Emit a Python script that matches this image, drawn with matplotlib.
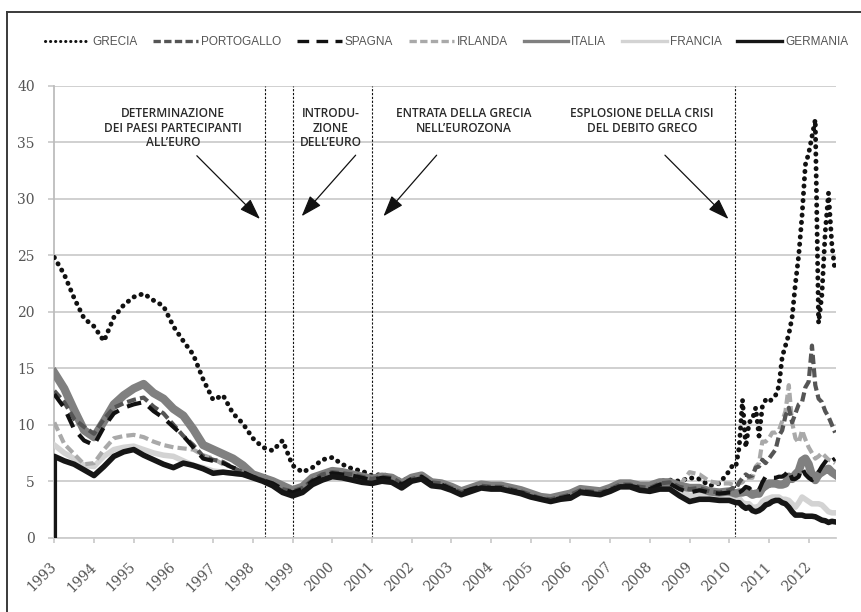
import numpy as np
import matplotlib
matplotlib.use("Agg")
import matplotlib.pyplot as plt
from matplotlib.lines import Line2D
from matplotlib.transforms import ScaledTranslation

# ---------------- data ----------------
quarter_dates = 1993 + np.arange(68) * 0.25          # 1993.00 ... 2009.75
month_dates = 2010 + np.arange(33) / 12.0            # Jan 2010 ... Sep 2012
dates = np.concatenate([quarter_dates, month_dates])

greece = [24.8, 23.3, 21.2, 19.4, 18.7, 17.4, 19.5, 20.6, 21.3, 21.6, 21.0, 20.5,
          18.7, 17.4, 16.2, 14.0, 12.2, 12.6, 11.0, 10.1, 8.8, 8.0, 7.7, 8.6,
          6.4, 5.8, 6.2, 6.9, 7.1, 6.5, 6.1, 5.9, 5.5, 5.6, 5.4, 5.0,
          5.4, 5.6, 5.0, 4.9, 4.5, 4.1, 4.4, 4.7, 4.6, 4.6, 4.4, 4.2,
          3.8, 3.6, 3.5, 3.7, 3.9, 4.3, 4.2, 4.1, 4.4, 4.8, 4.8, 4.6,
          4.6, 5.0, 5.1, 5.0, 5.3, 5.2, 4.6, 4.8,
          5.9, 6.4, 6.3, 8.0, 12.2, 8.0, 10.2, 10.5, 11.5, 9.0, 11.6, 12.2,
          12.0, 12.3, 12.6, 13.4, 16.0, 17.0, 18.0, 19.5, 22.5, 25.0, 28.5, 33.0,
          34.0, 35.5, 37.0, 19.0, 21.5, 27.0, 30.5, 26.0, 23.5]

portugal = [13.0, 12.0, 10.5, 9.8, 9.2, 10.5, 11.5, 11.9, 12.2, 12.4, 11.6, 11.0,
            10.0, 9.0, 8.2, 7.2, 6.9, 6.7, 6.2, 5.8, 5.4, 5.1, 4.8, 4.3,
            4.1, 4.4, 5.1, 5.6, 5.8, 5.7, 5.6, 5.4, 5.2, 5.4, 5.3, 4.8,
            5.2, 5.4, 4.9, 4.8, 4.4, 4.0, 4.3, 4.6, 4.5, 4.5, 4.3, 4.1,
            3.8, 3.5, 3.4, 3.6, 3.8, 4.2, 4.1, 4.0, 4.3, 4.7, 4.7, 4.5,
            4.4, 4.8, 4.9, 4.5, 4.3, 4.4, 4.1, 4.0,
            4.2, 4.4, 4.3, 4.9, 5.3, 5.6, 5.4, 5.5, 6.2, 6.3, 6.9, 6.6,
            7.0, 7.4, 7.8, 9.0, 9.5, 10.8, 11.5, 10.2, 11.0, 11.8, 12.0, 13.3,
            13.8, 17.0, 13.5, 12.3, 12.0, 11.2, 10.7, 10.0, 9.3]

spain = [12.7, 11.5, 9.6, 8.6, 8.2, 9.8, 11.0, 11.5, 11.8, 12.0, 11.2, 10.6,
         9.8, 9.0, 8.0, 7.0, 6.8, 6.6, 6.2, 5.8, 5.4, 5.1, 4.8, 4.3,
         4.0, 4.3, 5.0, 5.4, 5.7, 5.6, 5.5, 5.3, 5.1, 5.3, 5.2, 4.7,
         5.2, 5.4, 4.8, 4.7, 4.3, 4.0, 4.3, 4.5, 4.4, 4.4, 4.2, 4.0,
         3.7, 3.4, 3.3, 3.5, 3.7, 4.1, 4.0, 3.9, 4.2, 4.6, 4.6, 4.4,
         4.3, 4.7, 4.8, 4.3, 4.0, 4.2, 4.0, 3.9,
         4.0, 4.0, 3.9, 4.0, 4.2, 4.5, 4.4, 4.1, 4.1, 4.2, 4.9, 5.4,
         5.4, 5.3, 5.3, 5.4, 5.4, 5.6, 6.0, 5.2, 5.2, 5.4, 6.2, 5.6,
         5.3, 5.1, 5.3, 5.8, 6.3, 6.7, 7.1, 6.8, 7.0]

ireland = [10.2, 8.3, 7.4, 6.5, 6.6, 7.8, 8.8, 9.0, 9.1, 8.9, 8.5, 8.2,
           8.0, 7.9, 7.8, 7.3, 7.0, 6.5, 6.2, 5.9, 5.5, 5.1, 4.8, 4.3,
           3.9, 4.2, 4.9, 5.3, 5.6, 5.5, 5.3, 5.1, 5.0, 5.2, 5.1, 4.6,
           5.1, 5.3, 4.7, 4.6, 4.3, 3.9, 4.2, 4.5, 4.4, 4.4, 4.2, 4.0,
           3.7, 3.4, 3.3, 3.5, 3.7, 4.1, 4.0, 3.9, 4.2, 4.6, 4.6, 4.4,
           4.4, 4.7, 5.0, 4.6, 5.8, 5.6, 5.0, 4.8,
           4.8, 4.7, 4.6, 4.8, 4.9, 5.3, 5.3, 5.3, 6.3, 6.6, 8.5, 8.5,
           8.8, 9.3, 9.3, 9.5, 10.3, 11.2, 13.5, 10.2, 8.8, 8.4, 9.5, 8.7,
           8.0, 7.5, 7.0, 7.2, 7.5, 7.2, 6.9, 6.8, 6.6]

italy = [14.6, 13.2, 11.3, 9.5, 8.9, 10.3, 11.8, 12.6, 13.2, 13.6, 12.8, 12.3,
         11.4, 10.8, 9.6, 8.2, 7.8, 7.4, 7.0, 6.4, 5.6, 5.3, 5.0, 4.6,
         4.2, 4.5, 5.3, 5.6, 5.9, 5.8, 5.6, 5.4, 5.2, 5.4, 5.3, 4.8,
         5.3, 5.5, 4.9, 4.8, 4.5, 4.1, 4.4, 4.7, 4.6, 4.6, 4.4, 4.2,
         3.9, 3.6, 3.5, 3.7, 3.9, 4.3, 4.2, 4.1, 4.4, 4.8, 4.8, 4.6,
         4.6, 4.9, 4.9, 4.6, 4.4, 4.4, 4.1, 4.0,
         4.1, 4.0, 3.9, 4.0, 4.0, 4.1, 4.0, 3.8, 3.9, 3.9, 4.4, 4.6,
         4.8, 4.8, 4.8, 4.7, 4.7, 4.8, 5.4, 5.2, 5.6, 5.9, 6.8, 7.0,
         6.5, 5.5, 5.1, 5.6, 5.8, 6.0, 6.1, 5.8, 5.6]

france = [8.2, 7.5, 7.0, 6.4, 6.3, 7.2, 7.8, 8.0, 8.1, 7.8, 7.5, 7.3,
          7.2, 6.8, 6.4, 6.2, 5.9, 5.8, 5.7, 5.6, 5.4, 5.1, 4.8, 4.3,
          3.9, 4.2, 4.9, 5.3, 5.6, 5.5, 5.3, 5.1, 5.0, 5.2, 5.1, 4.6,
          5.1, 5.3, 4.7, 4.6, 4.3, 3.9, 4.2, 4.5, 4.4, 4.4, 4.2, 4.0,
          3.7, 3.4, 3.3, 3.5, 3.6, 4.1, 4.0, 3.9, 4.2, 4.6, 4.6, 4.4,
          4.2, 4.5, 4.6, 4.2, 3.7, 3.8, 3.8, 3.6,
          3.6, 3.6, 3.5, 3.5, 3.1, 3.0, 3.0, 2.7, 2.7, 2.8, 3.2, 3.4,
          3.5, 3.6, 3.6, 3.6, 3.4, 3.4, 3.3, 3.0, 2.7, 3.1, 3.6, 3.4,
          3.2, 3.0, 3.0, 3.0, 2.9, 2.6, 2.3, 2.2, 2.2]

germany_first = 0.0   # series begins at zero in the source chart
germany = [7.2, 6.8, 6.5, 6.0, 5.5, 6.3, 7.2, 7.6, 7.8, 7.3, 6.9, 6.5,
           6.2, 6.6, 6.4, 6.1, 5.7, 5.8, 5.7, 5.6, 5.3, 5.0, 4.6, 4.0,
           3.7, 4.0, 4.7, 5.1, 5.4, 5.3, 5.1, 4.9, 4.8, 5.0, 4.9, 4.4,
           5.0, 5.2, 4.6, 4.5, 4.2, 3.8, 4.1, 4.4, 4.3, 4.3, 4.1, 3.9,
           3.6, 3.4, 3.2, 3.4, 3.5, 4.0, 3.9, 3.8, 4.1, 4.5, 4.5, 4.2,
           4.1, 4.3, 4.3, 3.7, 3.2, 3.4, 3.4, 3.3,
           3.3, 3.2, 3.1, 3.1, 2.8, 2.6, 2.7, 2.4, 2.3, 2.4, 2.6, 2.9,
           3.0, 3.2, 3.3, 3.3, 3.1, 3.0, 2.7, 2.3, 2.0, 2.0, 2.0, 1.9,
           1.9, 1.9, 1.85, 1.7, 1.55, 1.5, 1.35, 1.45, 1.4]

legend_names = ["GRECIA", "PORTOGALLO", "SPAGNA", "IRLANDA", "ITALIA", "FRANCIA", "GERMANIA"]
year_ticks = list(range(1993, 2013))
y_ticks = list(range(0, 41, 5))

event_years = [1998.3, 1999.0, 2001.0, 2010.15]
event_labels = ["DETERMINAZIONE\nDEI PAESI PARTECIPANTI\nALL\u2019EURO",
                "INTRODU-\nZIONE\nDELL\u2019EURO",
                "ENTRATA DELLA GRECIA\nNELL\u2019EUROZONA",
                "ESPLOSIONE DELLA CRISI\nDEL DEBITO GRECO"]
label_pos = [(1995.99, 38.1), (1999.96, 38.1), (2003.32, 38.1), (2007.8, 38.1)]
arrow_from = [(1996.59, 33.8), (2000.59, 33.85), (2002.63, 33.85), (2008.38, 33.85)]
arrow_to = [(1998.18, 28.2), (1999.23, 28.45), (2001.29, 28.45), (2009.98, 28.2)]

# ---------------- figure ----------------
fig = plt.figure(figsize=(8.62, 6.12), dpi=100)
ax = fig.add_axes([0.063, 0.1214, 0.9069, 0.7386])

grid_c = "#cdcdcd"
text_c = "#555555"

styles = {
    "GRECIA": dict(color="#111111", lw=3.5, ls=(0, (0.05, 1.45)), dash_capstyle="round"),
    "PORTOGALLO": dict(color="#555555", lw=3.0, ls=(0, (2.2, 1.0))),
    "SPAGNA": dict(color="#111111", lw=3.0, ls=(0, (3.5, 2.2))),
    "IRLANDA": dict(color="#a9a9a9", lw=3.0, ls=(0, (2.2, 1.0))),
    "ITALIA": dict(color="#808080", lw=6.0, ls="-"),
    "FRANCIA": dict(color="#d3d3d3", lw=4.0, ls="-"),
    "GERMANIA": dict(color="#161616", lw=4.0, ls="-"),
}

series = {"GRECIA": greece, "PORTOGALLO": portugal, "SPAGNA": spain,
          "IRLANDA": ireland, "ITALIA": italy, "FRANCIA": france,
          "GERMANIA": germany}

draw_order = ["GRECIA", "FRANCIA", "IRLANDA", "ITALIA", "PORTOGALLO", "SPAGNA", "GERMANIA"]
for z, name in enumerate(draw_order):
    st = styles[name]
    if name == "GERMANIA":
        x = np.concatenate([[dates[0]], dates])
        y = [germany_first] + list(series[name])
    else:
        x, y = dates, series[name]
    kw = dict(color=st["color"], lw=st["lw"], linestyle=st["ls"], zorder=3 + z,
              solid_joinstyle="round")
    if "dash_capstyle" in st:
        kw["dash_capstyle"] = st["dash_capstyle"]
    ax.plot(x, y, **kw)

# event lines
for ex in event_years:
    ax.axvline(ex, ymin=0, ymax=1, color="#111111", lw=0.8, ls=(0, (2, 1.5)), zorder=2)

# annotations
for lab, (tx, ty), af, at in zip(event_labels, label_pos, arrow_from, arrow_to):
    ax.text(tx, ty, lab, ha="center", va="top", fontsize=8.6, color="#2a2a2a",
            family=["Open Sans", "DejaVu Sans"], fontweight="semibold",
            linespacing=1.15, zorder=20)
    ax.annotate("", xy=at, xytext=af,
                arrowprops=dict(arrowstyle="-|>,head_length=1.3,head_width=0.45",
                                mutation_scale=10, color="#111111", lw=0.9,
                                shrinkA=0, shrinkB=0),
                zorder=20)

ax.set_xlim(1993, 2012.69)
ax.set_ylim(0, 40)
ax.set_yticks(y_ticks)
ax.set_xticks(year_ticks)
ax.set_xticklabels([str(y) for y in year_ticks], rotation=45, ha="right", va="center",
                   rotation_mode="anchor", family=["DejaVu Serif"], fontsize=10, color=text_c)
ax.set_yticklabels([str(v) for v in y_ticks], family=["DejaVu Serif"], fontsize=10, color=text_c)
shift = ScaledTranslation(4 / 72, 0, fig.dpi_scale_trans)
for lbl in ax.get_xticklabels():
    lbl.set_transform(lbl.get_transform() + shift)
ax.yaxis.grid(True, color=grid_c, lw=1.3)
ax.set_axisbelow(True)
for s in ["top", "right"]:
    ax.spines[s].set_visible(False)
ax.spines["left"].set_color("#bdbdbd")
ax.spines["left"].set_linewidth(1.3)
ax.spines["bottom"].set_color(grid_c)
ax.spines["bottom"].set_linewidth(1.3)
ax.tick_params(axis="y", length=4, width=1.3, color=grid_c, pad=10)
ax.tick_params(axis="x", length=3.5, width=1.3, color=grid_c, pad=16)

# legend
handles = []
for name in legend_names:
    st = styles[name]
    kw = dict(color=st["color"], lw=2.4, linestyle=st["ls"])
    if "dash_capstyle" in st:
        kw["dash_capstyle"] = "round"
        kw["lw"] = 2.2
        kw["linestyle"] = (0, (0.05, 1.6))
    handles.append(Line2D([], [], **kw))
leg = fig.legend(handles, legend_names,
                 loc="center", bbox_to_anchor=(0.518, 0.931), ncol=7, frameon=False,
                 handlelength=3.8, handletextpad=0.25, columnspacing=1.33,
                 prop=dict(family=["Liberation Sans", "DejaVu Sans"], size=8.5))
for t in leg.get_texts():
    t.set_color(text_c)

# frame lines (top and left)
fig.add_artist(Line2D([0.008, 1.0], [0.9804, 0.9804], transform=fig.transFigure,
                      color="#3a3a3a", lw=1.4))
fig.add_artist(Line2D([0.008, 0.008], [0.0, 0.9804], transform=fig.transFigure,
                      color="#3a3a3a", lw=1.4))

fig.savefig("out.png", dpi=100)
